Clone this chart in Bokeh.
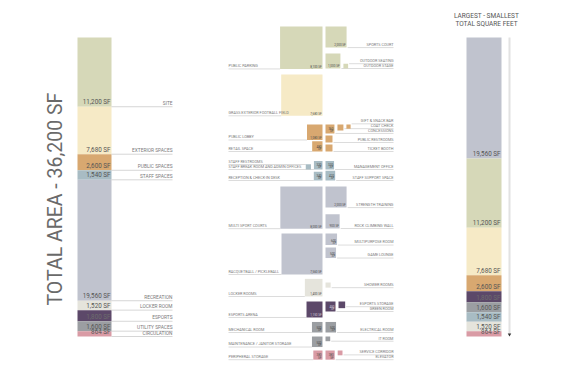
import math
from bokeh.plotting import figure
from bokeh.models import Range1d
from bokeh.embed import file_html
from bokeh.resources import INLINE
from bokeh.core.properties import value

# ---------------- data ----------------
categories = ["SITE", "EXTERIOR SPACES", "PUBLIC SPACES", "STAFF SPACES", "RECREATION",
              "LOCKER ROOM", "ESPORTS", "UTILITY SPACES", "CIRCULATION"]
square_feet = [11200, 7680, 2600, 1540, 19560, 1520, 1800, 1600, 864]
total_label = "TOTAL AREA - 36,200 SF"
sort_title = ["LARGEST - SMALLEST", "TOTAL SQUARE FEET"]

space_names = [
    "PUBLIC PARKING", "SPORTS COURT", "OUTDOOR STAGE", "OUTDOOR SEATING",
    "GRASS EXTERIOR FOOTBALL FIELD",
    "PUBLIC LOBBY", "CONCESSIONS", "COAT CHECK", "GIFT & SNACK BAR", "PUBLIC RESTROOMS",
    "RETAIL SPACE", "TICKET BOOTH",
    "STAFF BREAK ROOM AND ADMIN OFFICES", "STAFF RESTROOMS", "MANAGEMENT OFFICE",
    "RECEPTION & CHECK-IN DESK", "STAFF SUPPORT SPACE",
    "MULTI SPORT COURTS", "STRENGTH TRAINING", "ROCK CLIMBING WALL",
    "RACQUETBALL / PICKLEBALL", "MULTIPURPOSE ROOM", "GAME LOUNGE",
    "LOCKER ROOMS", "SHOWER ROOMS",
    "ESPORTS ARENA", "GREEN ROOM", "ESPORTS STORAGE",
    "MECHANICAL ROOM", "ELECTRICAL ROOM", "MAINTENANCE / JANITOR STORAGE", "IT ROOM",
    "PERIPHERAL STORAGE", "ELEVATOR", "SERVICE CORRIDOR",
]
space_sf = [8100, 2000, 1000, 100,
            7680,
            1080, 360, 160, 80, 220, 480, 220,
            330, 120, 330, 340, 420,
            8000, 2000, 900, 7560, 600, 500,
            1400, 120,
            1150, 450, 200,
            500, 500, 500, 100,
            380, 380, 104]
space_category = (["SITE"] * 4 + ["EXTERIOR SPACES"] + ["PUBLIC SPACES"] * 7 +
                  ["STAFF SPACES"] * 5 + ["RECREATION"] * 6 + ["LOCKER ROOM"] * 2 +
                  ["ESPORTS"] * 3 + ["UTILITY SPACES"] * 4 + ["CIRCULATION"] * 3)

# ---------------- styles ----------------
palette = {
    "SITE": "#d6d8b8", "EXTERIOR SPACES": "#f6eac6", "PUBLIC SPACES": "#d8a870",
    "STAFF SPACES": "#a8bcc4", "RECREATION": "#c0c3ce", "LOCKER ROOM": "#e5e4dc",
    "ESPORTS": "#5c4869", "UTILITY SPACES": "#9b9ea2", "CIRCULATION": "#d99ba5",
}
FONT = value("Roboto")
LABEL_C = "#7a7a7a"
VALUE_C = "#555555"
LINE_C = "#c4c4c4"

# ---------------- layout (positions in page pixels) ----------------
W, H = 580, 375
BAR_TOP, BAR_H = 37, 299
L_X0, L_X1, L_LABEL_X = 77, 111, 172
R_X0, R_X1, R_LINE_X = 466, 501, 509
MID_SPLIT, GAP = 322, 3
MID_LEFT_X, MID_RIGHT_X = 228, 393
SF_PER_PX2 = 4.5

rows = [  # (anchor y, alignment, squares left of split (right->left), squares right of split)
    (26, "top", ["PUBLIC PARKING"], ["SPORTS COURT"]),
    (68, "bottom", [], ["OUTDOOR STAGE", "OUTDOOR SEATING"]),
    (74, "top", ["GRASS EXTERIOR FOOTBALL FIELD"], []),
    (124, "top", ["PUBLIC LOBBY"], ["CONCESSIONS", "COAT CHECK", "GIFT & SNACK BAR"]),
    (142, "bottom", [], ["PUBLIC RESTROOMS"]),
    (151, "bottom", ["RETAIL SPACE"], ["TICKET BOOTH"]),
    (169, "bottom", ["STAFF BREAK ROOM AND ADMIN OFFICES", "STAFF RESTROOMS"], ["MANAGEMENT OFFICE"]),
    (180, "bottom", ["RECEPTION & CHECK-IN DESK"], ["STAFF SUPPORT SPACE"]),
    (186, "top", ["MULTI SPORT COURTS"], ["STRENGTH TRAINING"]),
    (228, "bottom", [], ["ROCK CLIMBING WALL"]),
    (233, "top", ["RACQUETBALL / PICKLEBALL"], ["MULTIPURPOSE ROOM"]),
    (247, "top", [], ["GAME LOUNGE"]),
    (296, "bottom", ["LOCKER ROOMS"], []),
    (282, "top", [], ["SHOWER ROOMS"]),
    (301, "top", ["ESPORTS ARENA"], ["GREEN ROOM", "ESPORTS STORAGE"]),
    (332, "bottom", ["MECHANICAL ROOM"], ["ELECTRICAL ROOM"]),
    (336, "top", ["MAINTENANCE / JANITOR STORAGE"], ["IT ROOM"]),
    (350, "top", ["PERIPHERAL STORAGE"], ["ELEVATOR", "SERVICE CORRIDOR"]),
]

p = figure(width=W, height=H, x_range=Range1d(0, W), y_range=Range1d(H, 0),
           toolbar_location=None, output_backend="svg", min_border=0,
           x_axis_location=None, y_axis_location=None, background_fill_color="white")
p.grid.visible = False
p.outline_line_color = None


def fmt(v):
    return f"{v:,} SF"


def txt(x, y, t, size, color, align="left", baseline="bottom", angle=0.0):
    p.text(x=[x], y=[y], text=[t], text_font=FONT, text_font_size=value(size),
           text_color=color, text_align=align, text_baseline=baseline, angle=angle)


scale = BAR_H / sum(square_feet)

# ---- left stacked bar (program order) ----
tops, bottoms = [], []
acc = BAR_TOP
for v in square_feet:
    tops.append(acc)
    acc += v * scale
    bottoms.append(acc)
p.quad(left=L_X0, right=L_X1, top=tops, bottom=bottoms,
       fill_color=[palette[c] for c in categories], line_color=None)
p.segment(x0=[L_X1] * len(categories), x1=[L_LABEL_X] * len(categories), y0=bottoms, y1=bottoms,
          line_color=LINE_C, line_width=0.7)
for c, v, b in zip(categories, square_feet, bottoms):
    txt(L_X1 - 1, b - 0.6, fmt(v), "6.3px", "#6d6d6d" if c == "ESPORTS" else VALUE_C, align="right")
    txt(L_LABEL_X, b - 1, c, "4.8px", LABEL_C, align="right")

txt(55, 305, total_label, "19.5px", "#6a6a6a", align="left", baseline="middle", angle=math.pi / 2)

# ---- right stacked bar (sorted largest -> smallest) ----
order = sorted(range(len(categories)), key=lambda i: -square_feet[i])
s_cats = [categories[i] for i in order]
s_vals = [square_feet[i] for i in order]
tops, bottoms = [], []
acc = BAR_TOP
for v in s_vals:
    tops.append(acc)
    acc += v * scale
    bottoms.append(acc)
p.quad(left=R_X0, right=R_X1, top=tops, bottom=bottoms,
       fill_color=[palette[c] for c in s_cats], line_color=None)
for c, v, b in zip(s_cats, s_vals, bottoms):
    txt(R_X1 - 1, b - 0.5, fmt(v), "6.3px", "#6d6d6d" if c == "ESPORTS" else VALUE_C, align="right")
p.segment(x0=[R_LINE_X], x1=[R_LINE_X], y0=[BAR_TOP], y1=[bottoms[-1] - 2],
          line_color="#e2e2e2", line_width=2)
p.scatter(x=[R_LINE_X], y=[bottoms[-1] - 2], marker="triangle", size=3.5, angle=math.pi,
          fill_color="#333333", line_color=None)
txt(486, 19, sort_title[0], "6.5px", VALUE_C, align="center")
txt(486, 27.5, sort_title[1], "6.5px", VALUE_C, align="center")

# ---- middle: squares with area proportional to square feet ----
lookup = {n: (sf, cat) for n, sf, cat in zip(space_names, space_sf, space_category)}
sq_l, sq_r, sq_t, sq_b, sq_c = [], [], [], [], []
ln_x0, ln_x1, ln_y = [], [], []


def place(name, x_left, anchor, align):
    sf, cat = lookup[name]
    s = math.sqrt(sf / SF_PER_PX2)
    top = anchor if align == "top" else anchor - s
    sq_l.append(x_left); sq_r.append(x_left + s); sq_t.append(top); sq_b.append(top + s)
    sq_c.append(palette[cat])
    dark = cat == "ESPORTS"
    tc = "#d8d0dc" if dark else "#4a4a4a"
    if s >= 14:
        txt(x_left + s - 0.8, top + s - 0.6, fmt(sf), "3px", tc, align="right")
    elif s >= 8:
        txt(x_left + s - 1, top + s - 3.6, f"{sf:,}", "3px", tc, align="right")
        txt(x_left + s - 1, top + s - 0.6, "SF", "3px", tc, align="right")
    return x_left, x_left + s, top + s


for anchor, align, lefts, rights in rows:
    x = MID_SPLIT
    placed_left = []
    for n in lefts:
        s = math.sqrt(lookup[n][0] / SF_PER_PX2)
        placed_left.append((n,) + place(n, x - s, anchor, align))
        x = x - s - GAP
    x = MID_SPLIT + GAP
    placed_right = []
    for n in rights:
        s = math.sqrt(lookup[n][0] / SF_PER_PX2)
        placed_right.append((n,) + place(n, x, anchor, align))
        x = x + s + GAP
    if placed_left:
        base = placed_left[0][3]
        for k, (n, x0, x1, b) in enumerate(placed_left):
            ly = base - 5 * k
            ln_x0.append(MID_LEFT_X); ln_x1.append(x0); ln_y.append(ly)
            txt(MID_LEFT_X, ly - 0.7, n, "3.8px", LABEL_C)
    if placed_right:
        base = placed_right[0][3]
        for k, (n, x0, x1, b) in enumerate(placed_right):
            ly = base - 4.8 * k
            ln_x0.append(x1 + 1); ln_x1.append(MID_RIGHT_X); ln_y.append(ly)
            txt(MID_RIGHT_X, ly - 0.7, n, "3.8px", LABEL_C, align="right")

p.segment(x0=ln_x0, x1=ln_x1, y0=ln_y, y1=ln_y, line_color=LINE_C, line_width=0.6)
p.quad(left=sq_l, right=sq_r, top=sq_t, bottom=sq_b, fill_color=sq_c, line_color=None)
# draw all text on top of the marks
text_renderers = [r for r in p.renderers if r.glyph.__class__.__name__ == "Text"]
others = [r for r in p.renderers if r.glyph.__class__.__name__ != "Text"]
p.renderers = others + text_renderers

open("out.html", "w").write(file_html(p, INLINE))
